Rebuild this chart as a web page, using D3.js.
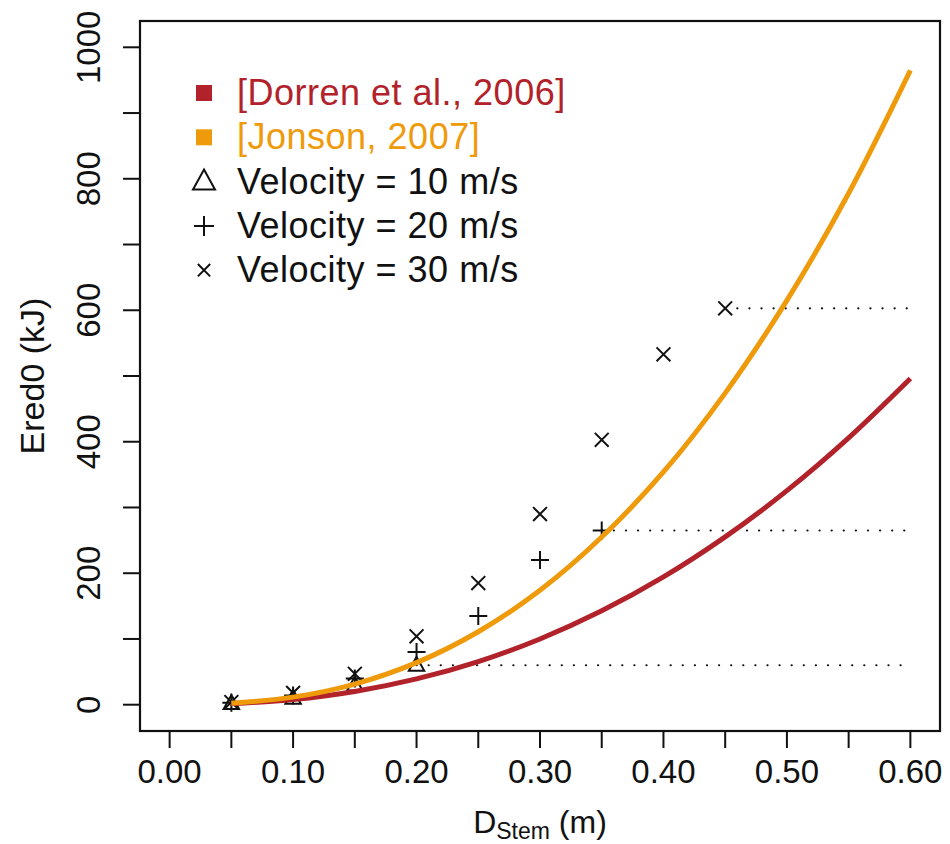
<!DOCTYPE html>
<html>
<head>
<meta charset="utf-8">
<script src="https://cdn.jsdelivr.net/npm/d3@7"></script>
<style>
  body { margin: 0; background: #fff; }
  text { font-family: "Liberation Sans", Arial, Helvetica, sans-serif; fill: #111; }
</style>
</head>
<body>
<div id="app"></div>
<script>
// stem diameter (m) for the two model curves
const diameters = [0.05, 0.10, 0.15, 0.20, 0.25, 0.30, 0.35, 0.40, 0.45, 0.50, 0.55, 0.60];
const dorren  = [1.6, 7.9, 20.2, 39.2, 65.6, 100.0, 142.8, 194.4, 255.3, 325.6, 405.9, 496.2];
const jonson  = [2.1, 11.5, 31.4, 64.0, 111, 174, 255, 354, 474, 615, 778, 965];

// simulated points per velocity
const v10x = [0.05, 0.10, 0.15, 0.20];
const v10y = [2, 10, 30, 60];
const v20x = [0.05, 0.10, 0.15, 0.20, 0.25, 0.30, 0.35];
const v20y = [3, 14, 40, 80, 135, 220, 265];
const v30x = [0.05, 0.10, 0.15, 0.20, 0.25, 0.30, 0.35, 0.40, 0.45];
const v30y = [4, 18, 47, 104, 185, 290, 403, 533, 603];

const xTicks = [0, 0.05, 0.10, 0.15, 0.20, 0.25, 0.30, 0.35, 0.40, 0.45, 0.50, 0.55, 0.60];
const xLabels = [0, 0.10, 0.20, 0.30, 0.40, 0.50, 0.60];
const yTicks = [0, 100, 200, 300, 400, 500, 600, 700, 800, 900, 1000];
const yLabels = [0, 200, 400, 600, 800, 1000];

const legendLabels = ['[Dorren et al., 2006]', '[Jonson, 2007]', 'Velocity = 10 m/s', 'Velocity = 20 m/s', 'Velocity = 30 m/s'];

const red = '#b2222a';
const orange = '#ef9a0a';

const width = 950, height = 844;
const box = { left: 140, right: 940, top: 21, bottom: 731 };

const x = d3.scaleLinear().domain([-0.024, 0.624]).range([box.left, box.right]);
const y = d3.scaleLinear().domain([-40, 1040]).range([box.bottom, box.top]);

const svg = d3.select('#app').append('svg')
  .attr('width', width)
  .attr('height', height);

// symbols
const sym = {
  tri: (g, s) => g.append('path').attr('d', `M0,${-s * 0.6}L${s * 0.55},${s * 0.4}L${-s * 0.55},${s * 0.4}Z`),
  plus: (g, s) => g.append('path').attr('d', `M${-s / 2},0H${s / 2}M0,${-s / 2}V${s / 2}`),
  cross: (g, s) => g.append('path').attr('d', `M${-s / 2.6},${-s / 2.6}L${s / 2.6},${s / 2.6}M${-s / 2.6},${s / 2.6}L${s / 2.6},${-s / 2.6}`)
};

const series = [
  { xs: v10x, ys: v10y, shape: 'tri', size: 14 },
  { xs: v20x, ys: v20y, shape: 'plus', size: 18 },
  { xs: v30x, ys: v30y, shape: 'cross', size: 18 }
];

// dotted lines from the last point to the right
series.forEach(s => {
  const n = s.xs.length - 1;
  svg.append('line')
    .attr('x1', x(s.xs[n])).attr('x2', x(0.6))
    .attr('y1', y(s.ys[n])).attr('y2', y(s.ys[n]))
    .attr('stroke', '#111')
    .attr('stroke-width', 2.2)
    .attr('stroke-linecap', 'round')
    .attr('stroke-dasharray', '0.1,12');
});

series.forEach(s => {
  s.xs.forEach((d, i) => {
    const g = svg.append('g').attr('transform', `translate(${x(d)},${y(s.ys[i])})`);
    sym[s.shape](g, s.size)
      .attr('fill', 'none')
      .attr('stroke', '#111')
      .attr('stroke-width', 2);
  });
});

const line = (vals) => d3.line()
  .x((d, i) => x(diameters[i]))
  .y(d => y(d))
  .curve(d3.curveCatmullRom)(vals);

svg.append('path').attr('d', line(dorren))
  .attr('fill', 'none').attr('stroke', red).attr('stroke-width', 5);
svg.append('path').attr('d', line(jonson))
  .attr('fill', 'none').attr('stroke', orange).attr('stroke-width', 5);

// box
svg.append('rect')
  .attr('x', box.left).attr('y', box.top)
  .attr('width', box.right - box.left).attr('height', box.bottom - box.top)
  .attr('fill', 'none').attr('stroke', '#111').attr('stroke-width', 2.2);

// x axis
svg.append('g').selectAll('line').data(xTicks).join('line')
  .attr('x1', d => x(d)).attr('x2', d => x(d))
  .attr('y1', box.bottom).attr('y2', box.bottom + 17)
  .attr('stroke', '#111').attr('stroke-width', 2);
svg.append('g').selectAll('text').data(xLabels).join('text')
  .attr('x', d => x(d)).attr('y', 783)
  .attr('text-anchor', 'middle')
  .style('font-size', '33px')
  .text(d => d3.format('.2f')(d));

// y axis
svg.append('g').selectAll('line').data(yTicks).join('line')
  .attr('x1', box.left - 17).attr('x2', box.left)
  .attr('y1', d => y(d)).attr('y2', d => y(d))
  .attr('stroke', '#111').attr('stroke-width', 2);
svg.append('g').selectAll('text').data(yLabels).join('text')
  .attr('transform', d => `translate(100,${y(d)}) rotate(-90)`)
  .attr('text-anchor', 'middle')
  .style('font-size', '33px')
  .text(d => d);

// axis titles
const xt = svg.append('text')
  .attr('x', (box.left + box.right) / 2).attr('y', 833)
  .attr('text-anchor', 'middle')
  .style('font-size', '32px');
xt.append('tspan').text('D');
xt.append('tspan').attr('dy', 6).style('font-size', '23px').text('Stem');
xt.append('tspan').attr('dy', -6).text(' (m)');

svg.append('text')
  .attr('transform', `translate(44,${(box.top + box.bottom) / 2}) rotate(-90)`)
  .attr('text-anchor', 'middle')
  .style('font-size', '34px')
  .text('Ered0 (kJ)');

// legend
const lg = svg.append('g');
legendLabels.forEach((label, i) => {
  const cy = 93 + i * 44.3;
  const g = lg.append('g').attr('transform', `translate(204,${cy})`);
  if (i < 2) {
    g.append('rect').attr('x', -8).attr('y', -8).attr('width', 16).attr('height', 16)
      .attr('fill', i === 0 ? red : orange);
  } else {
    sym[['tri', 'plus', 'cross'][i - 2]](g, i === 4 ? 16 : 20)
      .attr('fill', 'none').attr('stroke', '#111').attr('stroke-width', 2);
  }
  lg.append('text')
    .attr('x', 237).attr('y', cy + 12)
    .style('font-size', '36px')
    .style('letter-spacing', '0.5px')
    .style('fill', i === 0 ? red : i === 1 ? orange : '#111')
    .text(label);
});
</script>
</body>
</html>
